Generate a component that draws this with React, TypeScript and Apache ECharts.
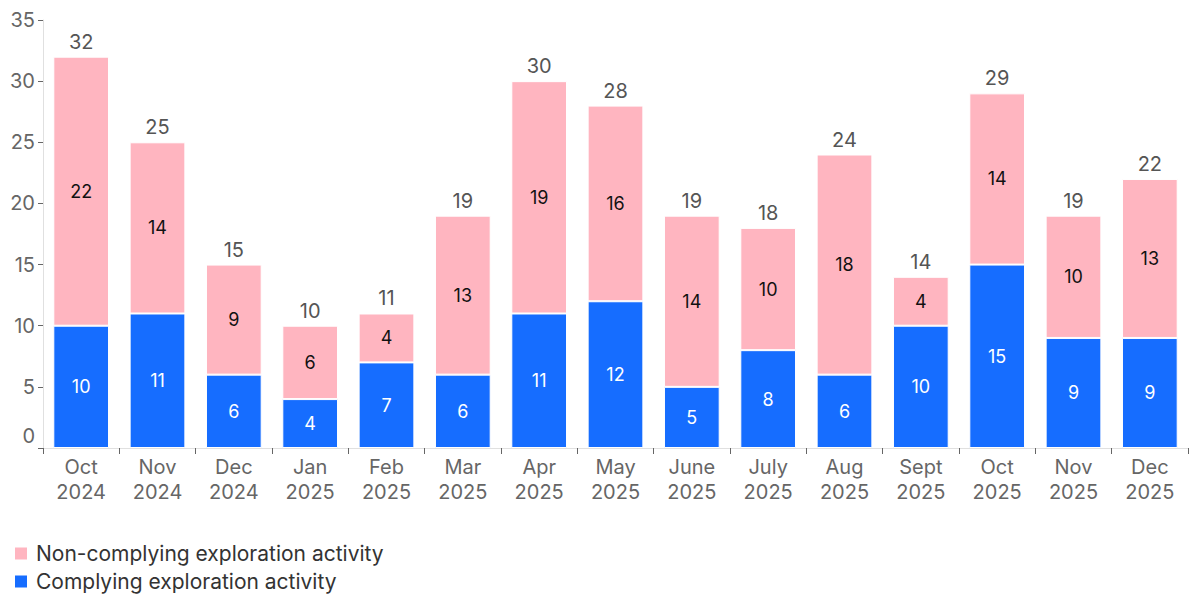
import React, { useEffect, useRef } from "react";
import * as echarts from "echarts";

const categories = [
  "Oct\n2024", "Nov\n2024", "Dec\n2024", "Jan\n2025", "Feb\n2025", "Mar\n2025", "Apr\n2025",
  "May\n2025", "June\n2025", "July\n2025", "Aug\n2025", "Sept\n2025", "Oct\n2025", "Nov\n2025", "Dec\n2025",
];
const complying = [10, 11, 6, 4, 7, 6, 11, 12, 5, 8, 6, 10, 15, 9, 9];
const nonComplying = [22, 14, 9, 6, 4, 13, 19, 16, 14, 10, 18, 4, 14, 10, 13];
const totals = [32, 25, 15, 10, 11, 19, 30, 28, 19, 18, 24, 14, 29, 19, 22];

const FONT = "Inter, 'Noto Sans', sans-serif";

export default function App() {
  const ref = useRef<HTMLDivElement>(null);
  useEffect(() => {
    document.body.style.margin = "0";
    const chart = echarts.init(ref.current!, null, { renderer: "svg" });
    chart.setOption({
      animation: false,
      textStyle: { fontFamily: FONT },
      grid: { left: 43, right: 4, top: 20, bottom: 146, containLabel: false },
      legend: {
        orient: "vertical",
        left: 13,
        top: 543,
        height: 50,
        padding: 0,
        itemWidth: 14,
        itemHeight: 14,
        itemGap: 7,
        icon: "rect",
        textStyle: { fontSize: 21, lineHeight: 20, color: "#333", fontFamily: FONT, padding: [0, 0, 0, 3] },
        data: ["Non-complying exploration activity", "Complying exploration activity"],
      },
      xAxis: {
        type: "category",
        data: categories,
        axisLine: { show: true, lineStyle: { color: "#e0e0e0" } },
        axisTick: { show: true, length: 6, lineStyle: { color: "#666" } },
        axisLabel: { fontSize: 20, color: "#666", lineHeight: 25, margin: 6, fontFamily: FONT },
      },
      yAxis: {
        type: "value",
        min: 0,
        max: 35,
        interval: 5,
        splitLine: { show: false },
        axisLine: { show: true, lineStyle: { color: "#e0e0e0" } },
        axisTick: { show: true, length: 5, lineStyle: { color: "#666" } },
        axisLabel: {
          fontSize: 20,
          color: "#666",
          margin: 8,
          fontFamily: FONT,
          formatter: (v: number) => (v === 0 ? "{z|0}" : String(v)),
          rich: { z: { fontSize: 20, color: "#666", padding: [0, 0, 24, 0], fontFamily: FONT } },
        },
      },
      series: [
        {
          name: "Complying exploration activity",
          type: "bar",
          stack: "s",
          data: complying,
          barCategoryGap: "27%",
          itemStyle: { color: "#166dff", borderColor: "#fff", borderWidth: 1 },
          label: { show: true, position: "inside", color: "#fff", fontSize: 18, fontFamily: FONT },
        },
        {
          name: "Non-complying exploration activity",
          type: "bar",
          stack: "s",
          data: nonComplying,
          itemStyle: { color: "#ffb5c0", borderColor: "#fff", borderWidth: 1 },
          label: { show: true, position: "inside", color: "#111", fontSize: 18, fontFamily: FONT },
        },
        {
          name: "total",
          type: "bar",
          stack: "s",
          data: totals.map(() => 0),
          silent: true,
          itemStyle: { color: "transparent" },
          label: {
            show: true,
            position: "top",
            distance: 5,
            color: "#555",
            fontSize: 20,
            fontFamily: FONT,
            formatter: (p: any) => String(totals[p.dataIndex]),
          },
        },
      ],
    });
    return () => chart.dispose();
  }, []);
  return <div ref={ref} style={{ width: 1192, height: 594 }} />;
}
